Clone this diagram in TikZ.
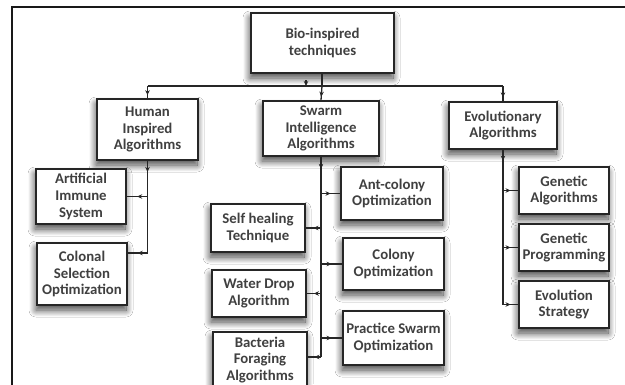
\documentclass[tikz,border=0pt]{standalone}
\usepackage{fontspec}
\setmainfont{Carlito}
\usetikzlibrary{arrows.meta,decorations.markings,shadows.blur}
\begin{document}
\begin{tikzpicture}[x=1pt,y=-1pt,
  box/.style={draw=black!85,line width=1.7pt,fill=white,align=center,
    font=\bfseries\fontsize{14.8}{16.6}\selectfont,text=black!75,inner sep=0pt,
    blur shadow={shadow xshift=-1pt,shadow yshift=-5pt,shadow blur radius=7pt,
      shadow blur steps=14,shadow opacity=75}},
  conn/.style={line width=1.3pt,draw=black!85,postaction={decorate},
    decoration={markings,mark=at position #1 with {\arrow{Stealth[length=5pt,width=4.5pt]}}}},
  conn/.default=0.5,
  line/.style={line width=1.3pt,draw=black!85},
]
\useasboundingbox (0,0) rectangle (625,384);
\clip (0,0) rectangle (625,384);
\fill[white] (0,0) rectangle (625,384);
% outer frame
\draw[line width=1.7pt,black!90] (12,400) -- (12,7) -- (640,7);

% boxes
\node[box,minimum width=143pt,minimum height=60pt] (bio) at (322.5,43) {Bio-inspired\\techniques};
\node[box,minimum width=101pt,minimum height=61pt] (human) at (147.5,129.5) {Human\\Inspired\\Algorithms};
\node[box,minimum width=116pt,minimum height=55pt] (swarm) at (321,128.5) {Swarm\\Intelligence\\Algorithms};
\node[box,minimum width=108pt,minimum height=47pt] (evo) at (503,125.5) {Evolutionary\\Algorithms};

\node[box,minimum width=90pt,minimum height=55pt] (ais) at (81,196.5) {Artificial\\Immune\\System};
\node[box,minimum width=90pt,minimum height=62pt] (cso) at (82,274) {Colonal\\Selection\\Optimization};

\node[box,minimum width=102pt,minimum height=53pt] (ant) at (392,193.5) {Ant-colony\\Optimization};
\node[box,minimum width=101pt,minimum height=52pt] (colony) at (393.5,264) {Colony\\Optimization};
\node[box,minimum width=101pt,minimum height=54pt] (pso) at (393.5,338) {Practice Swarm\\Optimization};
\node[box,minimum width=94pt,minimum height=48pt] (self) at (258,228) {Self healing\\Technique};
\node[box,minimum width=94pt,minimum height=47pt] (water) at (259,293.5) {Water Drop\\Algorithm};
\node[box,minimum width=94pt,minimum height=56pt] (bact) at (260,360) {Bacteria\\Foraging\\Algorithms};

\node[box,minimum width=90pt,minimum height=47pt] (ga) at (564,190.5) {Genetic\\Algorithms};
\node[box,minimum width=90pt,minimum height=47pt] (gp) at (564,247.5) {Genetic\\Programming};
\node[box,minimum width=90pt,minimum height=47pt] (es) at (564,304.5) {Evolution\\Strategy};

% top bus
\coordinate (busL) at (147.5,86);
\coordinate (busM) at (322,86);
\coordinate (busR) at (503,86);
\draw[line] (bio.south -| busM) -- (busM);
\draw[line] (busL) -- (busR);
\draw[conn=0.75] (busL) -- (human.north);
\draw[conn=0.75] (busM) -- (swarm.north);
\draw[conn=0.75] (busR) -- (evo.north);
\coordinate (tick) at (306,86);
\path (tick) ++(0,-6) coordinate (tickTop);
\draw[line,-{Stealth[length=5pt,width=4.5pt]}] (tickTop) -- (tick);

% human branch
\coordinate (hb) at (147.5,253);
\draw[conn=0.12] (human.south) -- (hb);
\draw[conn] (ais.east -| hb) -- (ais.east);
\draw[conn] (hb) -- (hb -| cso.east);

% swarm branch
\coordinate (sb) at (321,357);
\draw[conn=0.06] (swarm.south) -- (sb);
\draw[conn] (ant.west -| sb) -- (ant.west);
\draw[conn] (colony.west -| sb) -- (colony.west);
\draw[conn] (pso.west -| sb) -- (pso.west);
\draw[conn] (self.east -| sb) -- (self.east);
\draw[conn] (water.east -| sb) -- (water.east);
\draw[conn] (sb) -- (sb -| bact.east);

% evolutionary branch
\coordinate (eb) at (503,304.5);
\draw[conn=0.07] (evo.south) -- (eb);
\draw[conn] (ga.west -| eb) -- (ga.west);
\draw[conn] (gp.west -| eb) -- (gp.west);
\draw[conn] (eb) -- (es.west);
\end{tikzpicture}
\end{document}
